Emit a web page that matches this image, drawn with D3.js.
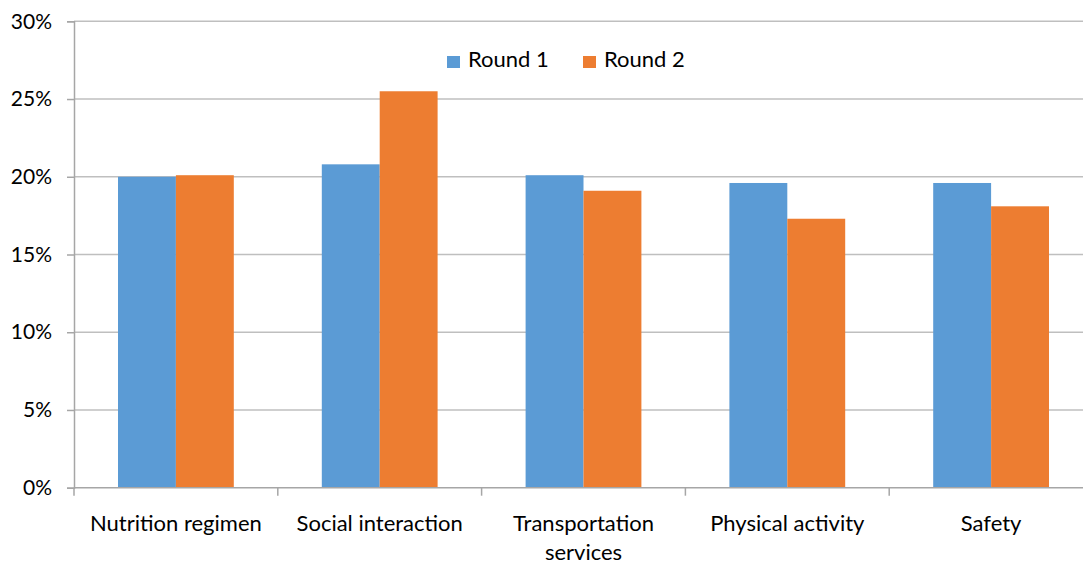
<!DOCTYPE html>
<html>
<head>
<meta charset="utf-8">
<script src="https://cdn.jsdelivr.net/npm/d3@7"></script>
<style>
  body { margin: 0; background: #fff; }
  svg { display: block; font-family: Lato, "Open Sans", sans-serif; }
</style>
</head>
<body>
<svg id="chart" width="1083" height="562"></svg>
<script>
// data
var categories = ["Nutrition regimen", "Social interaction", "Transportation services", "Physical activity", "Safety"];
var seriesNames = ["Round 1", "Round 2"];
var round1 = [0.200, 0.208, 0.201, 0.196, 0.196];
var round2 = [0.201, 0.255, 0.191, 0.173, 0.181];
var yTicks = [0, 0.05, 0.10, 0.15, 0.20, 0.25, 0.30];
var colors = ["#5B9BD5", "#ED7D31"];

var svg = d3.select("#chart");
var plotLeft = 74, plotRight = 1093, plotTop = 21.3, plotBottom = 487.7;

var x = d3.scaleBand().domain(categories).range([plotLeft, plotRight]);
var xSub = d3.scaleBand().domain(seriesNames).range([44, x.bandwidth() - 44]);
var y = d3.scaleLinear().domain([0, 0.30]).range([plotBottom, plotTop]);
var color = d3.scaleOrdinal().domain(seriesNames).range(colors);

// gridlines
svg.append("g").selectAll("line")
  .data(yTicks.slice(1))
  .join("line")
  .attr("x1", plotLeft).attr("x2", plotRight)
  .attr("y1", function (d) { return y(d); })
  .attr("y2", function (d) { return y(d); })
  .attr("stroke", "#BFBFBF")
  .attr("stroke-width", 1.5);

// bars
var rows = categories.map(function (c, i) {
  return {cat: c, vals: [round1[i], round2[i]]};
});
var groups = svg.append("g").selectAll("g")
  .data(rows)
  .join("g")
  .attr("transform", function (d) { return "translate(" + x(d.cat) + ",0)"; });
groups.selectAll("rect")
  .data(function (d) { return d.vals.map(function (v, k) { return {name: seriesNames[k], v: v}; }); })
  .join("rect")
  .attr("x", function (d) { return xSub(d.name); })
  .attr("width", xSub.bandwidth())
  .attr("y", function (d) { return y(d.v); })
  .attr("height", function (d) { return plotBottom - y(d.v); })
  .attr("fill", function (d) { return color(d.name); });

// y axis
var yAxis = svg.append("g")
  .attr("transform", "translate(" + plotLeft + ",0)")
  .call(d3.axisLeft(y).tickValues(yTicks).tickFormat(d3.format(".0%")).tickSize(7).tickPadding(15));
yAxis.select(".domain").attr("stroke", "#A6A6A6").attr("stroke-width", 1.5);
yAxis.selectAll(".tick line").attr("stroke", "#A6A6A6").attr("stroke-width", 1.5);
yAxis.selectAll(".tick text").attr("font-size", 21).attr("fill", "#000")
  .attr("font-family", "Lato, sans-serif");

// x axis line + category separators
svg.append("line")
  .attr("x1", plotLeft).attr("x2", plotRight)
  .attr("y1", plotBottom).attr("y2", plotBottom)
  .attr("stroke", "#A6A6A6").attr("stroke-width", 1.5);
svg.append("g").selectAll("line")
  .data(categories.concat(["end"]))
  .join("line")
  .attr("x1", function (d, i) { return plotLeft + i * x.step(); })
  .attr("x2", function (d, i) { return plotLeft + i * x.step(); })
  .attr("y1", plotBottom).attr("y2", plotBottom + 8)
  .attr("stroke", "#A6A6A6").attr("stroke-width", 1.5);

// category labels, wrapped to band width
var labels = svg.append("g").selectAll("text")
  .data(categories)
  .join("text")
  .attr("text-anchor", "middle")
  .attr("font-size", 22)
  .attr("fill", "#000")
  .attr("transform", function (d) { return "translate(" + (x(d) + x.bandwidth() / 2) + "," + (plotBottom + 43.5) + ")"; });
labels.each(function (d) {
  var t = d3.select(this);
  var words = d.split(" "), line = [], lines = [];
  var probe = t.append("tspan");
  words.forEach(function (w) {
    var test = line.concat([w]).join(" ");
    probe.text(test);
    if (probe.node().getComputedTextLength() > 185 && line.length) {
      lines.push(line.join(" "));
      line = [w];
    } else {
      line.push(w);
    }
  });
  lines.push(line.join(" "));
  probe.remove();
  lines.forEach(function (l, i) {
    t.append("tspan").attr("x", 0).attr("y", i * 29).text(l);
  });
});

// legend
var legendX = [447, 583];
var legend = svg.append("g").selectAll("g")
  .data(seriesNames)
  .join("g")
  .attr("transform", function (d, i) { return "translate(" + legendX[i] + ",56)"; });
legend.append("rect")
  .attr("width", 13).attr("height", 12)
  .attr("fill", function (d) { return color(d); });
legend.append("text")
  .attr("x", 21).attr("y", 11)
  .attr("font-size", 22)
  .attr("fill", "#000")
  .text(function (d) { return d; });
</script>
</body>
</html>
